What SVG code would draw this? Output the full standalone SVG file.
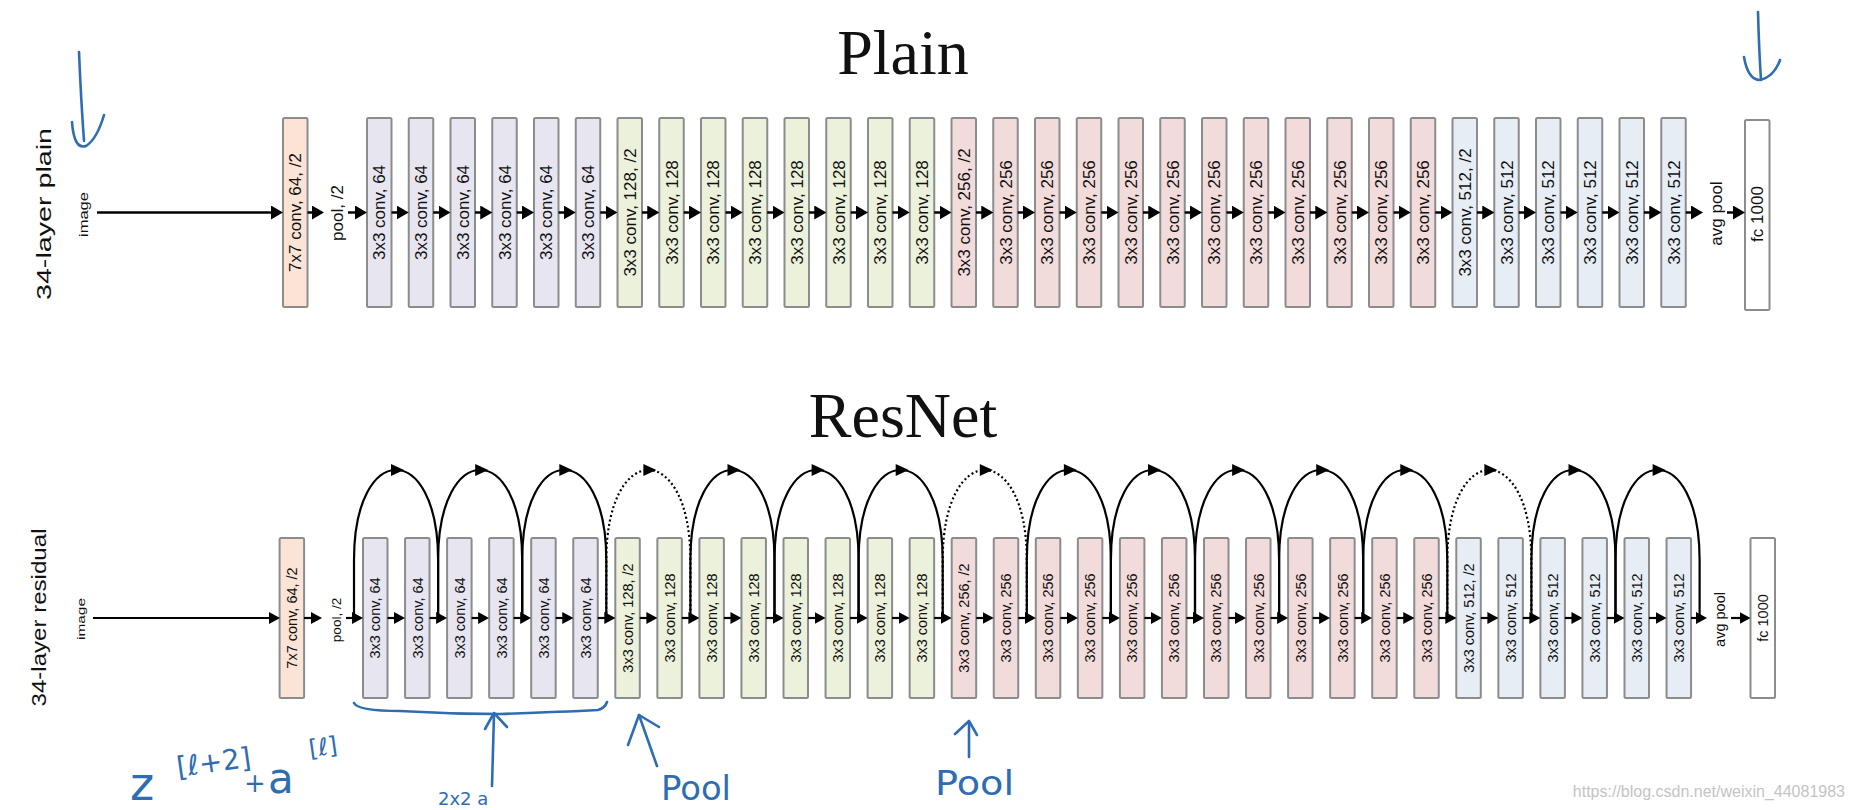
<svg xmlns="http://www.w3.org/2000/svg" xmlns:xlink="http://www.w3.org/1999/xlink" width="1854" height="810" viewBox="0 0 1854 810">
<style>
.b{stroke:#8c8c8c;stroke-width:2}
.c7{fill:#fbe4d5}.c64{fill:#e7e6f0}.c128{fill:#ecf1dc}.c256{fill:#f2dbdb}.c512{fill:#e7edf4}.cfc{fill:#ffffff}
.pl{font-family:"Liberation Sans",Arial,sans-serif;font-size:17px;fill:#111;text-anchor:middle}
.rl{font-family:"Liberation Sans",Arial,sans-serif;font-size:14.5px;fill:#111;text-anchor:middle}
.side{font-family:"Liberation Sans",Arial,sans-serif;font-size:20px;fill:#111;text-anchor:middle}
.title{font-family:"Liberation Serif","Times New Roman",serif;font-size:64px;fill:#111;text-anchor:middle}
.pc path{stroke:#000;stroke-width:2.5;fill:none}
.rc path{stroke:#000;stroke-width:2.2;fill:none}
.rc path.dot{stroke-dasharray:2 2.6}
.tip{fill:#000}
.hand{fill:none;stroke:#2e6db4;stroke-width:2.6;stroke-linecap:round;stroke-linejoin:round}
.ht{font-family:"DejaVu Sans","Liberation Sans",sans-serif;fill:#2e6db4}
.wm{font-family:"Liberation Sans",Arial,sans-serif;font-size:16px;fill:#c4c4c4;text-anchor:end}
</style>
<defs>
<marker id="ap" viewBox="0 0 12 14" refX="9" refY="7" markerWidth="12" markerHeight="14" markerUnits="userSpaceOnUse" orient="auto"><path d="M0,0 L12,7 L0,14 Z" fill="#000"/></marker>
<marker id="ar" viewBox="0 0 11 12" refX="8" refY="6" markerWidth="11" markerHeight="12" markerUnits="userSpaceOnUse" orient="auto"><path d="M0,0 L11,6 L0,12 Z" fill="#000"/></marker>
<path id="tip" class="tip" d="M-5,-6 L8,0 L-5,6 Z"/>
</defs>
<rect width="1854" height="810" fill="#ffffff"/>

<text class="title" x="903" y="74">Plain</text>
<text class="title" x="903" y="437">ResNet</text>

<text class="side" transform="translate(51,214) rotate(-90)" textLength="172" lengthAdjust="spacingAndGlyphs">34-layer plain</text>
<text class="side" transform="translate(46,617.5) rotate(-90)" textLength="178" lengthAdjust="spacingAndGlyphs">34-layer residual</text>

<!-- ===== Plain row nodes ===== -->
<g id="plain-nodes">
<g id="p-image"><text class="pl" style="font-size:12px" transform="translate(88,214.5) rotate(-90)" textLength="45" lengthAdjust="spacingAndGlyphs">image</text></g>
<g id="p-conv7" transform="translate(283,118)"><rect class="b c7" width="24.5" height="189" rx="1.5"/><text class="pl" transform="translate(18.35,94.5) rotate(-90)">7x7 conv, 64, /2</text></g>
<g id="p-pool"><text class="pl" transform="translate(343,213) rotate(-90)">pool, /2</text></g>
<g id="p0" transform="translate(367,118)"><rect class="b c64" width="24.5" height="189" rx="1.5"/><text class="pl" transform="translate(18.35,94.5) rotate(-90)">3x3 conv, 64</text></g>
<g id="p1" transform="translate(408.75,118)"><rect class="b c64" width="24.5" height="189" rx="1.5"/><text class="pl" transform="translate(18.35,94.5) rotate(-90)">3x3 conv, 64</text></g>
<g id="p2" transform="translate(450.5,118)"><rect class="b c64" width="24.5" height="189" rx="1.5"/><text class="pl" transform="translate(18.35,94.5) rotate(-90)">3x3 conv, 64</text></g>
<g id="p3" transform="translate(492.25,118)"><rect class="b c64" width="24.5" height="189" rx="1.5"/><text class="pl" transform="translate(18.35,94.5) rotate(-90)">3x3 conv, 64</text></g>
<g id="p4" transform="translate(534,118)"><rect class="b c64" width="24.5" height="189" rx="1.5"/><text class="pl" transform="translate(18.35,94.5) rotate(-90)">3x3 conv, 64</text></g>
<g id="p5" transform="translate(575.75,118)"><rect class="b c64" width="24.5" height="189" rx="1.5"/><text class="pl" transform="translate(18.35,94.5) rotate(-90)">3x3 conv, 64</text></g>
<g id="p6" transform="translate(617.5,118)"><rect class="b c128" width="24.5" height="189" rx="1.5"/><text class="pl" transform="translate(18.35,94.5) rotate(-90)">3x3 conv, 128, /2</text></g>
<g id="p7" transform="translate(659.25,118)"><rect class="b c128" width="24.5" height="189" rx="1.5"/><text class="pl" transform="translate(18.35,94.5) rotate(-90)">3x3 conv, 128</text></g>
<g id="p8" transform="translate(701,118)"><rect class="b c128" width="24.5" height="189" rx="1.5"/><text class="pl" transform="translate(18.35,94.5) rotate(-90)">3x3 conv, 128</text></g>
<g id="p9" transform="translate(742.75,118)"><rect class="b c128" width="24.5" height="189" rx="1.5"/><text class="pl" transform="translate(18.35,94.5) rotate(-90)">3x3 conv, 128</text></g>
<g id="p10" transform="translate(784.5,118)"><rect class="b c128" width="24.5" height="189" rx="1.5"/><text class="pl" transform="translate(18.35,94.5) rotate(-90)">3x3 conv, 128</text></g>
<g id="p11" transform="translate(826.25,118)"><rect class="b c128" width="24.5" height="189" rx="1.5"/><text class="pl" transform="translate(18.35,94.5) rotate(-90)">3x3 conv, 128</text></g>
<g id="p12" transform="translate(868,118)"><rect class="b c128" width="24.5" height="189" rx="1.5"/><text class="pl" transform="translate(18.35,94.5) rotate(-90)">3x3 conv, 128</text></g>
<g id="p13" transform="translate(909.75,118)"><rect class="b c128" width="24.5" height="189" rx="1.5"/><text class="pl" transform="translate(18.35,94.5) rotate(-90)">3x3 conv, 128</text></g>
<g id="p14" transform="translate(951.5,118)"><rect class="b c256" width="24.5" height="189" rx="1.5"/><text class="pl" transform="translate(18.35,94.5) rotate(-90)">3x3 conv, 256, /2</text></g>
<g id="p15" transform="translate(993.25,118)"><rect class="b c256" width="24.5" height="189" rx="1.5"/><text class="pl" transform="translate(18.35,94.5) rotate(-90)">3x3 conv, 256</text></g>
<g id="p16" transform="translate(1035,118)"><rect class="b c256" width="24.5" height="189" rx="1.5"/><text class="pl" transform="translate(18.35,94.5) rotate(-90)">3x3 conv, 256</text></g>
<g id="p17" transform="translate(1076.75,118)"><rect class="b c256" width="24.5" height="189" rx="1.5"/><text class="pl" transform="translate(18.35,94.5) rotate(-90)">3x3 conv, 256</text></g>
<g id="p18" transform="translate(1118.5,118)"><rect class="b c256" width="24.5" height="189" rx="1.5"/><text class="pl" transform="translate(18.35,94.5) rotate(-90)">3x3 conv, 256</text></g>
<g id="p19" transform="translate(1160.25,118)"><rect class="b c256" width="24.5" height="189" rx="1.5"/><text class="pl" transform="translate(18.35,94.5) rotate(-90)">3x3 conv, 256</text></g>
<g id="p20" transform="translate(1202,118)"><rect class="b c256" width="24.5" height="189" rx="1.5"/><text class="pl" transform="translate(18.35,94.5) rotate(-90)">3x3 conv, 256</text></g>
<g id="p21" transform="translate(1243.75,118)"><rect class="b c256" width="24.5" height="189" rx="1.5"/><text class="pl" transform="translate(18.35,94.5) rotate(-90)">3x3 conv, 256</text></g>
<g id="p22" transform="translate(1285.5,118)"><rect class="b c256" width="24.5" height="189" rx="1.5"/><text class="pl" transform="translate(18.35,94.5) rotate(-90)">3x3 conv, 256</text></g>
<g id="p23" transform="translate(1327.25,118)"><rect class="b c256" width="24.5" height="189" rx="1.5"/><text class="pl" transform="translate(18.35,94.5) rotate(-90)">3x3 conv, 256</text></g>
<g id="p24" transform="translate(1369,118)"><rect class="b c256" width="24.5" height="189" rx="1.5"/><text class="pl" transform="translate(18.35,94.5) rotate(-90)">3x3 conv, 256</text></g>
<g id="p25" transform="translate(1410.75,118)"><rect class="b c256" width="24.5" height="189" rx="1.5"/><text class="pl" transform="translate(18.35,94.5) rotate(-90)">3x3 conv, 256</text></g>
<g id="p26" transform="translate(1452.5,118)"><rect class="b c512" width="24.5" height="189" rx="1.5"/><text class="pl" transform="translate(18.35,94.5) rotate(-90)">3x3 conv, 512, /2</text></g>
<g id="p27" transform="translate(1494.25,118)"><rect class="b c512" width="24.5" height="189" rx="1.5"/><text class="pl" transform="translate(18.35,94.5) rotate(-90)">3x3 conv, 512</text></g>
<g id="p28" transform="translate(1536,118)"><rect class="b c512" width="24.5" height="189" rx="1.5"/><text class="pl" transform="translate(18.35,94.5) rotate(-90)">3x3 conv, 512</text></g>
<g id="p29" transform="translate(1577.75,118)"><rect class="b c512" width="24.5" height="189" rx="1.5"/><text class="pl" transform="translate(18.35,94.5) rotate(-90)">3x3 conv, 512</text></g>
<g id="p30" transform="translate(1619.5,118)"><rect class="b c512" width="24.5" height="189" rx="1.5"/><text class="pl" transform="translate(18.35,94.5) rotate(-90)">3x3 conv, 512</text></g>
<g id="p31" transform="translate(1661.25,118)"><rect class="b c512" width="24.5" height="189" rx="1.5"/><text class="pl" transform="translate(18.35,94.5) rotate(-90)">3x3 conv, 512</text></g>
<g id="p-avgpool"><text class="pl" transform="translate(1722,213.5) rotate(-90)">avg pool</text></g>
<g id="p-fc" transform="translate(1745,120)"><rect class="b cfc" width="24.5" height="190" rx="1.5"/><text class="pl" transform="translate(18.35,94) rotate(-90)">fc 1000</text></g>
</g>

<!-- ===== Plain row connectors ===== -->
<g id="plain-connectors" class="pc">
<path marker-end="url(#ap)" d="M97,212.5 H280"/>
<path marker-end="url(#ap)" d="M307.5,212.5 H321"/>
<path marker-end="url(#ap)" d="M348,212.5 H364"/>
<path marker-end="url(#ap)" d="M391.5,212.5 H405.75"/>
<path marker-end="url(#ap)" d="M433.25,212.5 H447.5"/>
<path marker-end="url(#ap)" d="M475,212.5 H489.25"/>
<path marker-end="url(#ap)" d="M516.75,212.5 H531"/>
<path marker-end="url(#ap)" d="M558.5,212.5 H572.75"/>
<path marker-end="url(#ap)" d="M600.25,212.5 H614.5"/>
<path marker-end="url(#ap)" d="M642,212.5 H656.25"/>
<path marker-end="url(#ap)" d="M683.75,212.5 H698"/>
<path marker-end="url(#ap)" d="M725.5,212.5 H739.75"/>
<path marker-end="url(#ap)" d="M767.25,212.5 H781.5"/>
<path marker-end="url(#ap)" d="M809,212.5 H823.25"/>
<path marker-end="url(#ap)" d="M850.75,212.5 H865"/>
<path marker-end="url(#ap)" d="M892.5,212.5 H906.75"/>
<path marker-end="url(#ap)" d="M934.25,212.5 H948.5"/>
<path marker-end="url(#ap)" d="M976,212.5 H990.25"/>
<path marker-end="url(#ap)" d="M1017.75,212.5 H1032"/>
<path marker-end="url(#ap)" d="M1059.5,212.5 H1073.75"/>
<path marker-end="url(#ap)" d="M1101.25,212.5 H1115.5"/>
<path marker-end="url(#ap)" d="M1143,212.5 H1157.25"/>
<path marker-end="url(#ap)" d="M1184.75,212.5 H1199"/>
<path marker-end="url(#ap)" d="M1226.5,212.5 H1240.75"/>
<path marker-end="url(#ap)" d="M1268.25,212.5 H1282.5"/>
<path marker-end="url(#ap)" d="M1310,212.5 H1324.25"/>
<path marker-end="url(#ap)" d="M1351.75,212.5 H1366"/>
<path marker-end="url(#ap)" d="M1393.5,212.5 H1407.75"/>
<path marker-end="url(#ap)" d="M1435.25,212.5 H1449.5"/>
<path marker-end="url(#ap)" d="M1477,212.5 H1491.25"/>
<path marker-end="url(#ap)" d="M1518.75,212.5 H1533"/>
<path marker-end="url(#ap)" d="M1560.5,212.5 H1574.75"/>
<path marker-end="url(#ap)" d="M1602.25,212.5 H1616.5"/>
<path marker-end="url(#ap)" d="M1644,212.5 H1658.25"/>
<path marker-end="url(#ap)" d="M1685.75,212.5 H1700"/>
<path marker-end="url(#ap)" d="M1727,212.5 H1742"/>
</g>

<!-- ===== ResNet row nodes ===== -->
<g id="res-nodes">
<g id="r-image"><text class="rl" style="font-size:11.5px" transform="translate(85,619) rotate(-90)" textLength="42" lengthAdjust="spacingAndGlyphs">image</text></g>
<g id="r-conv7" transform="translate(279.6,538)"><rect class="b c7" width="24.5" height="160" rx="1.5"/><text class="rl" transform="translate(17.45,80) rotate(-90)">7x7 conv, 64, /2</text></g>
<g id="r-pool"><text class="rl" style="font-size:13.5px" transform="translate(340.5,620) rotate(-90)">pool, /2</text></g>
<g id="r0" transform="translate(363,538)"><rect class="b c64" width="24.5" height="160" rx="1.5"/><text class="rl" transform="translate(17.45,80) rotate(-90)">3x3 conv, 64</text></g>
<g id="r1" transform="translate(405.05,538)"><rect class="b c64" width="24.5" height="160" rx="1.5"/><text class="rl" transform="translate(17.45,80) rotate(-90)">3x3 conv, 64</text></g>
<g id="r2" transform="translate(447.1,538)"><rect class="b c64" width="24.5" height="160" rx="1.5"/><text class="rl" transform="translate(17.45,80) rotate(-90)">3x3 conv, 64</text></g>
<g id="r3" transform="translate(489.15,538)"><rect class="b c64" width="24.5" height="160" rx="1.5"/><text class="rl" transform="translate(17.45,80) rotate(-90)">3x3 conv, 64</text></g>
<g id="r4" transform="translate(531.2,538)"><rect class="b c64" width="24.5" height="160" rx="1.5"/><text class="rl" transform="translate(17.45,80) rotate(-90)">3x3 conv, 64</text></g>
<g id="r5" transform="translate(573.25,538)"><rect class="b c64" width="24.5" height="160" rx="1.5"/><text class="rl" transform="translate(17.45,80) rotate(-90)">3x3 conv, 64</text></g>
<g id="r6" transform="translate(615.3,538)"><rect class="b c128" width="24.5" height="160" rx="1.5"/><text class="rl" transform="translate(17.45,80) rotate(-90)">3x3 conv, 128, /2</text></g>
<g id="r7" transform="translate(657.35,538)"><rect class="b c128" width="24.5" height="160" rx="1.5"/><text class="rl" transform="translate(17.45,80) rotate(-90)">3x3 conv, 128</text></g>
<g id="r8" transform="translate(699.4,538)"><rect class="b c128" width="24.5" height="160" rx="1.5"/><text class="rl" transform="translate(17.45,80) rotate(-90)">3x3 conv, 128</text></g>
<g id="r9" transform="translate(741.45,538)"><rect class="b c128" width="24.5" height="160" rx="1.5"/><text class="rl" transform="translate(17.45,80) rotate(-90)">3x3 conv, 128</text></g>
<g id="r10" transform="translate(783.5,538)"><rect class="b c128" width="24.5" height="160" rx="1.5"/><text class="rl" transform="translate(17.45,80) rotate(-90)">3x3 conv, 128</text></g>
<g id="r11" transform="translate(825.55,538)"><rect class="b c128" width="24.5" height="160" rx="1.5"/><text class="rl" transform="translate(17.45,80) rotate(-90)">3x3 conv, 128</text></g>
<g id="r12" transform="translate(867.6,538)"><rect class="b c128" width="24.5" height="160" rx="1.5"/><text class="rl" transform="translate(17.45,80) rotate(-90)">3x3 conv, 128</text></g>
<g id="r13" transform="translate(909.65,538)"><rect class="b c128" width="24.5" height="160" rx="1.5"/><text class="rl" transform="translate(17.45,80) rotate(-90)">3x3 conv, 128</text></g>
<g id="r14" transform="translate(951.7,538)"><rect class="b c256" width="24.5" height="160" rx="1.5"/><text class="rl" transform="translate(17.45,80) rotate(-90)">3x3 conv, 256, /2</text></g>
<g id="r15" transform="translate(993.75,538)"><rect class="b c256" width="24.5" height="160" rx="1.5"/><text class="rl" transform="translate(17.45,80) rotate(-90)">3x3 conv, 256</text></g>
<g id="r16" transform="translate(1035.8,538)"><rect class="b c256" width="24.5" height="160" rx="1.5"/><text class="rl" transform="translate(17.45,80) rotate(-90)">3x3 conv, 256</text></g>
<g id="r17" transform="translate(1077.85,538)"><rect class="b c256" width="24.5" height="160" rx="1.5"/><text class="rl" transform="translate(17.45,80) rotate(-90)">3x3 conv, 256</text></g>
<g id="r18" transform="translate(1119.9,538)"><rect class="b c256" width="24.5" height="160" rx="1.5"/><text class="rl" transform="translate(17.45,80) rotate(-90)">3x3 conv, 256</text></g>
<g id="r19" transform="translate(1161.95,538)"><rect class="b c256" width="24.5" height="160" rx="1.5"/><text class="rl" transform="translate(17.45,80) rotate(-90)">3x3 conv, 256</text></g>
<g id="r20" transform="translate(1204,538)"><rect class="b c256" width="24.5" height="160" rx="1.5"/><text class="rl" transform="translate(17.45,80) rotate(-90)">3x3 conv, 256</text></g>
<g id="r21" transform="translate(1246.05,538)"><rect class="b c256" width="24.5" height="160" rx="1.5"/><text class="rl" transform="translate(17.45,80) rotate(-90)">3x3 conv, 256</text></g>
<g id="r22" transform="translate(1288.1,538)"><rect class="b c256" width="24.5" height="160" rx="1.5"/><text class="rl" transform="translate(17.45,80) rotate(-90)">3x3 conv, 256</text></g>
<g id="r23" transform="translate(1330.15,538)"><rect class="b c256" width="24.5" height="160" rx="1.5"/><text class="rl" transform="translate(17.45,80) rotate(-90)">3x3 conv, 256</text></g>
<g id="r24" transform="translate(1372.2,538)"><rect class="b c256" width="24.5" height="160" rx="1.5"/><text class="rl" transform="translate(17.45,80) rotate(-90)">3x3 conv, 256</text></g>
<g id="r25" transform="translate(1414.25,538)"><rect class="b c256" width="24.5" height="160" rx="1.5"/><text class="rl" transform="translate(17.45,80) rotate(-90)">3x3 conv, 256</text></g>
<g id="r26" transform="translate(1456.3,538)"><rect class="b c512" width="24.5" height="160" rx="1.5"/><text class="rl" transform="translate(17.45,80) rotate(-90)">3x3 conv, 512, /2</text></g>
<g id="r27" transform="translate(1498.35,538)"><rect class="b c512" width="24.5" height="160" rx="1.5"/><text class="rl" transform="translate(17.45,80) rotate(-90)">3x3 conv, 512</text></g>
<g id="r28" transform="translate(1540.4,538)"><rect class="b c512" width="24.5" height="160" rx="1.5"/><text class="rl" transform="translate(17.45,80) rotate(-90)">3x3 conv, 512</text></g>
<g id="r29" transform="translate(1582.45,538)"><rect class="b c512" width="24.5" height="160" rx="1.5"/><text class="rl" transform="translate(17.45,80) rotate(-90)">3x3 conv, 512</text></g>
<g id="r30" transform="translate(1624.5,538)"><rect class="b c512" width="24.5" height="160" rx="1.5"/><text class="rl" transform="translate(17.45,80) rotate(-90)">3x3 conv, 512</text></g>
<g id="r31" transform="translate(1666.55,538)"><rect class="b c512" width="24.5" height="160" rx="1.5"/><text class="rl" transform="translate(17.45,80) rotate(-90)">3x3 conv, 512</text></g>
<g id="r-avgpool"><text class="rl" transform="translate(1725,619.5) rotate(-90)">avg pool</text></g>
<g id="r-fc" transform="translate(1750.5,538)"><rect class="b cfc" width="24.5" height="160" rx="1.5"/><text class="rl" transform="translate(17.45,80) rotate(-90)">fc 1000</text></g>
</g>

<!-- ===== ResNet row connectors ===== -->
<g id="res-connectors" class="rc">
<path marker-end="url(#ar)" d="M93,618 H277"/>
<path marker-end="url(#ar)" d="M304,618 H319"/>
<path marker-end="url(#ar)" d="M346,618 H360"/>
<path marker-end="url(#ar)" d="M387.5,618 H402"/>
<path marker-end="url(#ar)" d="M429.55,618 H444.1"/>
<path marker-end="url(#ar)" d="M471.6,618 H486.15"/>
<path marker-end="url(#ar)" d="M513.65,618 H528.2"/>
<path marker-end="url(#ar)" d="M555.7,618 H570.25"/>
<path marker-end="url(#ar)" d="M597.75,618 H612.3"/>
<path marker-end="url(#ar)" d="M639.8,618 H654.35"/>
<path marker-end="url(#ar)" d="M681.85,618 H696.4"/>
<path marker-end="url(#ar)" d="M723.9,618 H738.45"/>
<path marker-end="url(#ar)" d="M765.95,618 H780.5"/>
<path marker-end="url(#ar)" d="M808,618 H822.55"/>
<path marker-end="url(#ar)" d="M850.05,618 H864.6"/>
<path marker-end="url(#ar)" d="M892.1,618 H906.65"/>
<path marker-end="url(#ar)" d="M934.15,618 H948.7"/>
<path marker-end="url(#ar)" d="M976.2,618 H990.75"/>
<path marker-end="url(#ar)" d="M1018.25,618 H1032.8"/>
<path marker-end="url(#ar)" d="M1060.3,618 H1074.85"/>
<path marker-end="url(#ar)" d="M1102.35,618 H1116.9"/>
<path marker-end="url(#ar)" d="M1144.4,618 H1158.95"/>
<path marker-end="url(#ar)" d="M1186.45,618 H1201"/>
<path marker-end="url(#ar)" d="M1228.5,618 H1243.05"/>
<path marker-end="url(#ar)" d="M1270.55,618 H1285.1"/>
<path marker-end="url(#ar)" d="M1312.6,618 H1327.15"/>
<path marker-end="url(#ar)" d="M1354.65,618 H1369.2"/>
<path marker-end="url(#ar)" d="M1396.7,618 H1411.25"/>
<path marker-end="url(#ar)" d="M1438.75,618 H1453.3"/>
<path marker-end="url(#ar)" d="M1480.8,618 H1495.35"/>
<path marker-end="url(#ar)" d="M1522.85,618 H1537.4"/>
<path marker-end="url(#ar)" d="M1564.9,618 H1579.45"/>
<path marker-end="url(#ar)" d="M1606.95,618 H1621.5"/>
<path marker-end="url(#ar)" d="M1649,618 H1663.55"/>
<path marker-end="url(#ar)" d="M1691.05,618 H1704"/>
<path marker-end="url(#ar)" d="M1731,618 H1747.5"/>
<!-- skip connections -->
<path class="arc" d="M354,618 V560 C354,440 438.1,440 438.1,560 V618"/>
<path class="arc" d="M438.1,618 V560 C438.1,440 522.2,440 522.2,560 V618"/>
<path class="arc" d="M522.2,618 V560 C522.2,440 606.3,440 606.3,560 V618"/>
<path class="arc dot" d="M606.3,618 V560 C606.3,440 690.4,440 690.4,560 V618"/>
<path class="arc" d="M690.4,618 V560 C690.4,440 774.5,440 774.5,560 V618"/>
<path class="arc" d="M774.5,618 V560 C774.5,440 858.6,440 858.6,560 V618"/>
<path class="arc" d="M858.6,618 V560 C858.6,440 942.7,440 942.7,560 V618"/>
<path class="arc dot" d="M942.7,618 V560 C942.7,440 1026.8,440 1026.8,560 V618"/>
<path class="arc" d="M1026.8,618 V560 C1026.8,440 1110.9,440 1110.9,560 V618"/>
<path class="arc" d="M1110.9,618 V560 C1110.9,440 1195,440 1195,560 V618"/>
<path class="arc" d="M1195,618 V560 C1195,440 1279.1,440 1279.1,560 V618"/>
<path class="arc" d="M1279.1,618 V560 C1279.1,440 1363.2,440 1363.2,560 V618"/>
<path class="arc" d="M1363.2,618 V560 C1363.2,440 1447.3,440 1447.3,560 V618"/>
<path class="arc dot" d="M1447.3,618 V560 C1447.3,440 1531.4,440 1531.4,560 V618"/>
<path class="arc" d="M1531.4,618 V560 C1531.4,440 1615.5,440 1615.5,560 V618"/>
<path class="arc" d="M1615.5,618 V560 C1615.5,440 1699.6,440 1699.6,560 V618"/>
<use href="#tip" x="396" y="470"/>
<use href="#tip" x="480.2" y="470"/>
<use href="#tip" x="564.3" y="470"/>
<use href="#tip" x="648.4" y="470"/>
<use href="#tip" x="732.5" y="470"/>
<use href="#tip" x="816.6" y="470"/>
<use href="#tip" x="900.7" y="470"/>
<use href="#tip" x="984.8" y="470"/>
<use href="#tip" x="1068.9" y="470"/>
<use href="#tip" x="1153" y="470"/>
<use href="#tip" x="1237.1" y="470"/>
<use href="#tip" x="1321.2" y="470"/>
<use href="#tip" x="1405.3" y="470"/>
<use href="#tip" x="1489.4" y="470"/>
<use href="#tip" x="1573.5" y="470"/>
<use href="#tip" x="1657.6" y="470"/>
</g>

<!-- ===== Handwritten annotations ===== -->
<g id="annotations">
<path class="hand" d="M79,52 Q81,100 84,141"/>
<path class="hand" d="M72,122 Q74,150 86,146 Q97,139 104,115"/>
<path class="hand" d="M1758,12 Q1759,50 1761,80"/>
<path class="hand" d="M1744,57 Q1748,80 1760,80 Q1774,77 1780,60"/>
<path class="hand" d="M354,703 Q358,711 400,711 Q450,714 500,714 Q560,712 598,710 Q605,708 607,702"/>
<path class="hand" d="M492,786 L494,714"/>
<path class="hand" d="M485,729 L494,713 L507,727"/>
<path class="hand" d="M657,766 L639,715"/>
<path class="hand" d="M628,745 L639,715 L659,727"/>
<path class="hand" d="M969,757 L969,722"/>
<path class="hand" d="M955,734 L969,721 L977,735"/>
<text class="ht" x="661" y="800" font-size="34" textLength="70" lengthAdjust="spacingAndGlyphs">Pool</text>
<text class="ht" x="935" y="795" font-size="34" textLength="79" lengthAdjust="spacingAndGlyphs">Pool</text>
<text class="ht" x="130" y="800" font-size="46">z</text>
<text class="ht" x="178" y="777" font-size="28" transform="rotate(-8 178 777)">[ℓ+2]</text>
<text class="ht" x="244" y="792" font-size="26">+</text>
<text class="ht" x="268" y="793" font-size="42">a</text>
<text class="ht" x="310" y="757" font-size="24" transform="rotate(-8 310 757)">[ℓ]</text>
<text class="ht" x="438" y="805" font-size="18">2x2 a</text>
</g>

<text class="wm" x="1845" y="797">https://blog.csdn.net/weixin_44081983</text>
</svg>
